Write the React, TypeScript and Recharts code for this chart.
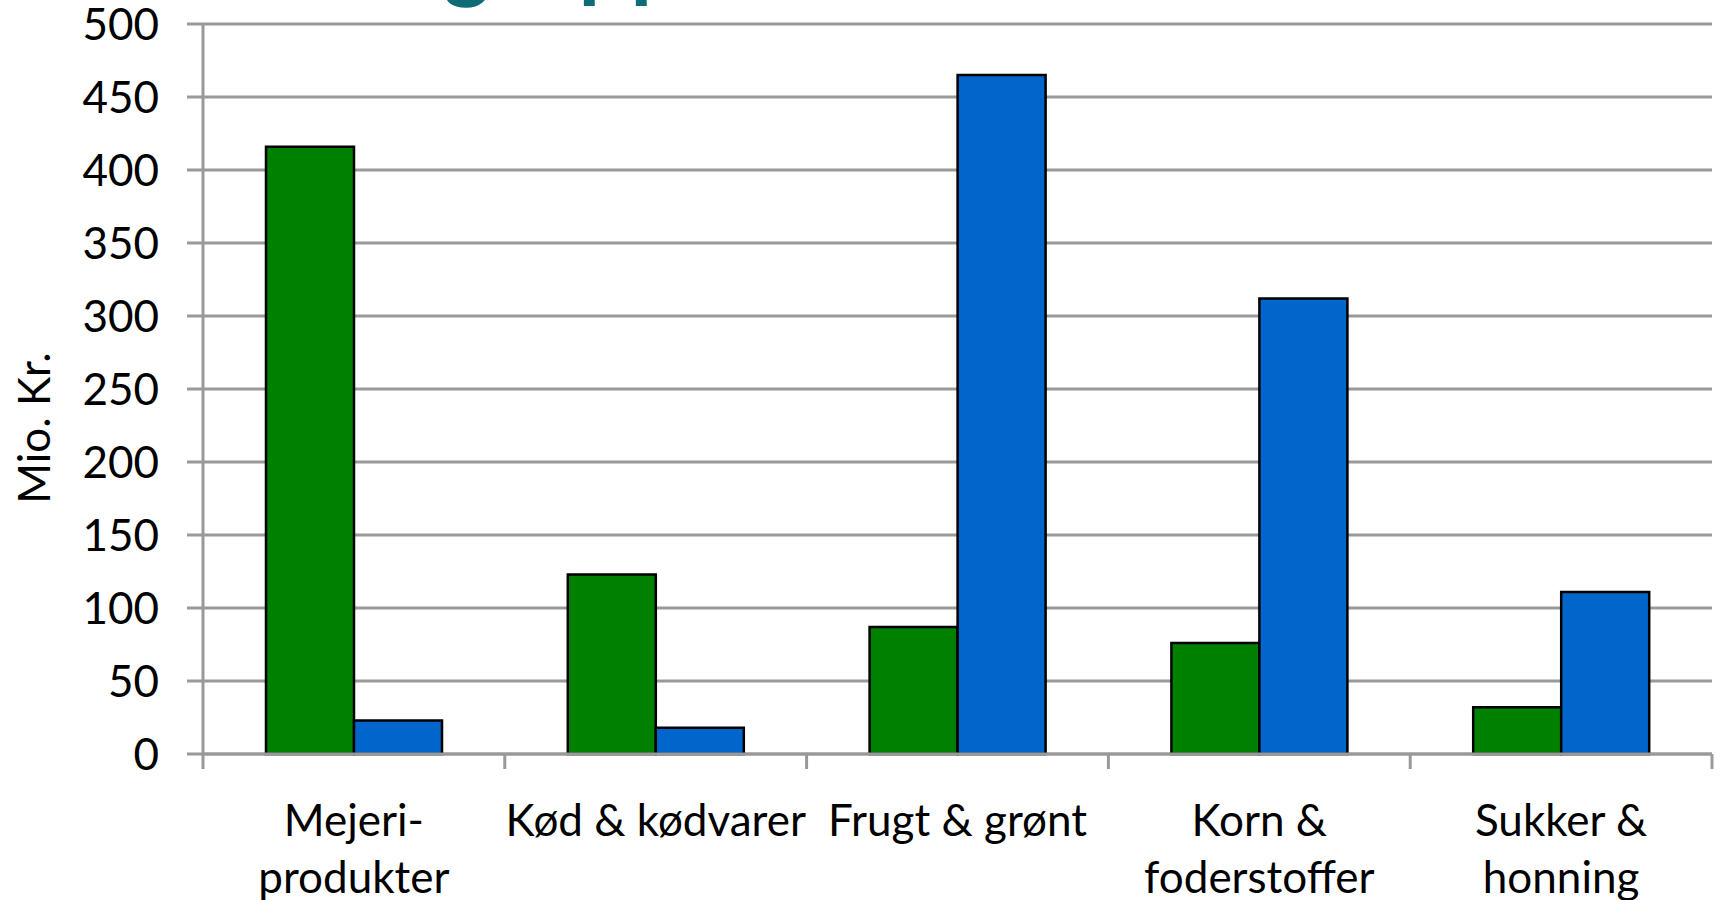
import { BarChart, Bar, XAxis, YAxis, CartesianGrid } from 'recharts';

const CATEGORIES = ['Mejeri-\nprodukter', 'Kød & kødvarer', 'Frugt & grønt', 'Korn &\nfoderstoffer', 'Sukker &\nhonning'];
const GREEN_VALUES = [416, 123, 87, 76, 32];
const BLUE_VALUES = [23, 18, 465, 312, 111];
const Y_TICKS = [0, 50, 100, 150, 200, 250, 300, 350, 400, 450, 500];

const WIDTH = 1721;
const HEIGHT = 900;
const MARGIN = { top: 24, right: 9, left: 0, bottom: 0 };
const Y_AXIS_WIDTH = 203;
const X_AXIS_HEIGHT = 146;
const FONT = 'Lato, "Open Sans", sans-serif';
const GRID = '#999999';

const data = CATEGORIES.map((name, i) => ({
  name,
  green: GREEN_VALUES[i],
  blue: BLUE_VALUES[i],
}));

const plotWidth = WIDTH - MARGIN.left - MARGIN.right - Y_AXIS_WIDTH;
const bandWidth = plotWidth / CATEGORIES.length;

function CategoryTick(props: any) {
  const { x, y, payload, index } = props;
  const lines = String(payload.value).split('\n');
  return (
    <g>
      <line x1={x - bandWidth / 2} x2={x - bandWidth / 2} y1={y} y2={y + 15} stroke={GRID} strokeWidth={3} />
      {index === CATEGORIES.length - 1 && (
        <line x1={x + bandWidth / 2} x2={x + bandWidth / 2} y1={y} y2={y + 15} stroke={GRID} strokeWidth={3} />
      )}
      <text x={x} y={y + 82} textAnchor="middle" fontFamily={FONT} fontSize={44} fill="#000">
        {lines.map((l, i) => (
          <tspan key={i} x={x} dy={i === 0 ? 0 : 57}>{l}</tspan>
        ))}
      </text>
    </g>
  );
}

function AxisTitle() {
  return (
    <text
      x={33}
      y={428}
      transform="rotate(-90 33 428)"
      textAnchor="middle"
      dominantBaseline="central"
      fontFamily={FONT}
      fontSize={44}
      fill="#000"
    >
      Mio. Kr.
    </text>
  );
}

export default function App() {
  return (
    <div style={{ position: 'absolute', left: 0, top: 0, width: WIDTH, height: HEIGHT, background: '#fff' }}>
      <BarChart width={WIDTH} height={HEIGHT} data={data} margin={MARGIN} barGap={0} barSize={88}>
        <CartesianGrid vertical={false} stroke={GRID} strokeWidth={3} />
        <XAxis
          dataKey="name"
          height={X_AXIS_HEIGHT}
          interval={0}
          tickLine={false}
          tickSize={0}
          tickMargin={0}
          axisLine={{ stroke: GRID, strokeWidth: 3 }}
          tick={<CategoryTick />}
        />
        <YAxis
          width={Y_AXIS_WIDTH}
          domain={[0, 500]}
          ticks={Y_TICKS}
          interval={0}
          tickSize={16}
          tickMargin={28}
          tickLine={{ stroke: GRID, strokeWidth: 3 }}
          axisLine={{ stroke: GRID, strokeWidth: 3 }}
          tick={{ fontFamily: FONT, fontSize: 44, fill: '#000' }}
          label={{ content: () => <AxisTitle /> }}
        />
        <Bar dataKey="green" fill="#008000" stroke="#000" strokeWidth={2.5} isAnimationActive={false} />
        <Bar dataKey="blue" fill="#0066CC" stroke="#000" strokeWidth={2.5} isAnimationActive={false} />
      </BarChart>
      <svg width={WIDTH} height={HEIGHT} style={{ position: 'absolute', left: 0, top: 0, pointerEvents: 'none' }}>
        <text x={258} y={-9} fontFamily={FONT} fontWeight="bold" fontSize={88} letterSpacing={2} fill="#0E6B78">
          Varegrupper
        </text>
      </svg>
    </div>
  );
}
